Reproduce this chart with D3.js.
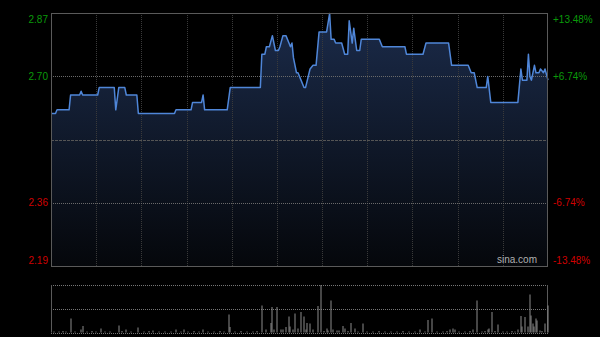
<!DOCTYPE html>
<html>
<head>
<meta charset="utf-8">
<script src="https://cdn.jsdelivr.net/npm/d3@7"></script>
<style>
  html, body { margin: 0; padding: 0; background: #000; }
  svg { display: block; }
  text { font-family: "Liberation Sans", Arial, sans-serif; }
</style>
</head>
<body>
<svg width="600" height="337"></svg>
<script>
// previous close and the percentage band of the chart
var prevClose = 2.53,
    band = 0.1348;

// intraday price, only the minutes where the line changes
var priceTimes = ["09:30","09:33","09:34","09:42","09:43","09:49","09:50","09:51","10:01","10:02",
  "10:12","10:13","10:15","10:19","10:20","10:27","10:28","10:52","10:53","11:03",
  "11:04","11:10","11:11","11:12","11:27","11:29","11:49","11:50","11:52","11:53",
  "11:55","11:57","11:59","13:01","13:02","13:04","13:06","13:08","13:09","13:10",
  "13:11","13:13","13:14","13:16","13:18","13:19","13:22","13:24","13:26","13:28",
  "13:33","13:35","13:36","13:38","13:39","13:43","13:45","13:47","13:48","13:50",
  "13:51","13:53","13:55","13:56","14:08","14:10","14:25","14:26","14:37","14:39",
  "14:54","14:56","15:07","15:09","15:11","15:13","15:19","15:20","15:22","15:40",
  "15:42","15:43","15:46","15:47","15:48","15:49","15:51","15:52","15:54","15:55",
  "15:57","15:58","16:00"];
var prices = [2.60,2.60,2.61,2.61,2.65,2.65,2.66,2.65,2.65,2.67,
  2.67,2.61,2.67,2.67,2.65,2.65,2.60,2.60,2.61,2.61,
  2.63,2.63,2.65,2.61,2.61,2.67,2.67,2.76,2.76,2.78,
  2.78,2.81,2.77,2.77,2.78,2.81,2.81,2.79,2.78,2.79,
  2.75,2.71,2.71,2.69,2.67,2.67,2.72,2.73,2.73,2.82,
  2.82,2.87,2.80,2.80,2.79,2.79,2.76,2.76,2.85,2.79,
  2.83,2.77,2.77,2.80,2.80,2.78,2.78,2.76,2.76,2.79,
  2.79,2.73,2.73,2.71,2.71,2.67,2.67,2.70,2.63,2.63,
  2.72,2.69,2.69,2.76,2.70,2.69,2.73,2.71,2.71,2.72,
  2.71,2.72,2.69];

// traded volume per minute (thousand shares)
var volTimes = ["09:32","09:35","09:38","09:40","09:43","09:46","09:50","09:51","09:54","09:57",
  "10:00","10:03","10:06","10:09","10:15","10:17","10:20","10:23","10:28","10:32",
  "10:35","10:38","10:42","10:46","10:50","10:53","10:56","10:58","11:01","11:05",
  "11:08","11:11","11:14","11:18","11:22","11:25","11:28","11:29","11:32","11:36",
  "11:40","11:44","11:47","11:50","11:53","11:56","11:57","11:58","12:00","13:03",
  "13:04","13:06","13:08","13:09","13:11","13:12","13:14","13:16","13:18","13:19",
  "13:20","13:22","13:24","13:27","13:29","13:31","13:33","13:34","13:36","13:37",
  "13:40","13:41","13:44","13:45","13:47","13:49","13:52","13:54","13:57","14:00",
  "14:04","14:08","14:12","14:16","14:20","14:24","14:28","14:32","14:35","14:38",
  "14:40","14:43","14:46","14:50","14:53","14:55","14:57","14:58","15:01","15:05",
  "15:08","15:10","15:13","15:16","15:18","15:20","15:21","15:23","15:25","15:27",
  "15:30","15:33","15:36","15:38","15:40","15:42","15:43","15:45","15:47","15:48",
  "15:49","15:50","15:51","15:52","15:53","15:55","15:56","15:58","16:00"];
var volumes = [20,20,30,20,280,20,60,130,20,30,
  20,80,20,20,140,30,60,20,100,20,
  30,40,20,20,20,60,20,60,20,30,
  20,60,20,20,30,20,360,110,20,30,
  20,20,30,540,60,190,510,60,510,60,
  60,110,320,120,60,380,80,410,320,60,
  190,180,60,530,950,30,80,40,640,60,
  40,40,130,80,30,190,80,20,180,20,
  20,30,20,20,20,30,20,20,60,20,
  250,280,20,20,30,60,80,60,20,20,
  30,60,640,20,30,60,80,410,30,160,
  20,20,30,20,60,330,120,310,120,760,
  340,180,120,280,240,40,30,180,540];

var priceTicks = ["2.87","2.70","2.36","2.19"],
    pctTicks = ["+13.48%","+6.74%","-6.74%","-13.48%"],
    tickPct = [band, band / 2, -band / 2, -band];

var svg = d3.select("svg"),
    margin = {top: 13, left: 51, right: 52},
    width = +svg.attr("width") - margin.left - margin.right,
    height = 253,
    volTop = 285,
    volHeight = 47.5;

// minutes of trading: 9:30-12:00 and 13:00-16:00
function toIndex(s) {
  var p = s.split(":"), t = +p[0] * 60 + +p[1];
  return t <= 720 ? t - 570 : t - 780 + 150;
}

var x = d3.scaleLinear().domain([0, 330]).range([margin.left, margin.left + width]),
    y = d3.scaleLinear().domain([prevClose * (1 - band), prevClose * (1 + band)])
          .range([margin.top + height, margin.top]),
    yv = d3.scaleLinear().domain([0, d3.max(volumes)]).range([volTop + volHeight, volTop]);

var pdata = priceTimes.map(function(t, i) { return {i: toIndex(t), p: prices[i]}; });
var vdata = volTimes.map(function(t, i) { return {i: toIndex(t), v: volumes[i]}; });

var grad = svg.append("defs").append("linearGradient")
    .attr("id", "fill")
    .attr("gradientUnits", "userSpaceOnUse")
    .attr("x1", 0).attr("x2", 0)
    .attr("y1", margin.top).attr("y2", margin.top + height);
grad.append("stop").attr("offset", "0%").attr("stop-color", "#1b2b4a");
grad.append("stop").attr("offset", "100%").attr("stop-color", "#05070b");

var area = d3.area()
    .x(function(d) { return x(d.i); })
    .y0(margin.top + height)
    .y1(function(d) { return y(d.p); });

var line = d3.line()
    .x(function(d) { return x(d.i); })
    .y(function(d) { return y(d.p); });

svg.append("path")
    .datum(pdata)
    .attr("fill", "url(#fill)")
    .attr("d", area);

// grid
var vgrid = d3.range(30, 330, 30);
svg.append("g").selectAll("line")
    .data(vgrid)
    .enter().append("line")
    .attr("x1", function(d) { return Math.round(x(d)) + 0.5; })
    .attr("x2", function(d) { return Math.round(x(d)) + 0.5; })
    .attr("y1", margin.top)
    .attr("y2", margin.top + height)
    .attr("stroke", "#3a3a3a")
    .attr("stroke-dasharray", "1,1");

svg.append("g").selectAll("line")
    .data([band / 2, -band / 2])
    .enter().append("line")
    .attr("x1", margin.left)
    .attr("x2", margin.left + width)
    .attr("y1", function(d) { return Math.round(y(prevClose * (1 + d))) + 0.5; })
    .attr("y2", function(d) { return Math.round(y(prevClose * (1 + d))) + 0.5; })
    .attr("stroke", "#6a6a6a")
    .attr("stroke-dasharray", "1,1");

svg.append("line")
    .attr("x1", margin.left)
    .attr("x2", margin.left + width)
    .attr("y1", Math.round(y(prevClose)) + 0.5)
    .attr("y2", Math.round(y(prevClose)) + 0.5)
    .attr("stroke", "#555")
    .attr("stroke-dasharray", "3,1");

svg.append("path")
    .datum(pdata)
    .attr("fill", "none")
    .attr("stroke", "#4f86d8")
    .attr("stroke-width", 1.5)
    .attr("stroke-linejoin", "round")
    .attr("d", line);

svg.append("rect")
    .attr("x", margin.left + 0.5)
    .attr("y", margin.top + 0.5)
    .attr("width", width - 1)
    .attr("height", height)
    .attr("fill", "none")
    .attr("stroke", "#5a5a5a");

svg.append("text")
    .attr("x", margin.left + width - 11)
    .attr("y", margin.top + height - 3)
    .attr("text-anchor", "end")
    .attr("font-size", 10)
    .attr("fill", "#b0b0b0")
    .text("sina.com");

// axes
var tickVals = tickPct.map(function(d) { return prevClose * (1 + d); });
function tickColor(d) { return d > prevClose ? "#0a9a0a" : "#d00000"; }
function clampY(d) {
  var yy = y(d);
  return Math.max(margin.top + 6, Math.min(margin.top + height - 6, yy)) - yy;
}

var yAxisL = d3.axisLeft(y).tickValues(tickVals).tickSize(0).tickPadding(3)
    .tickFormat(function(d, i) { return priceTicks[i]; });
var yAxisR = d3.axisRight(y).tickValues(tickVals).tickSize(0).tickPadding(5)
    .tickFormat(function(d, i) { return pctTicks[i]; });

[[yAxisL, margin.left], [yAxisR, margin.left + width]].forEach(function(a) {
  var g = svg.append("g")
      .attr("transform", "translate(" + a[1] + ",0)")
      .call(a[0]);
  g.select(".domain").remove();
  g.selectAll("text")
      .attr("font-family", "'Liberation Sans', Arial, sans-serif")
      .attr("font-size", 10)
      .attr("fill", tickColor)
      .attr("transform", function(d) { return "translate(0," + clampY(d) + ")"; });
});

// volume panel
var vol = svg.append("g");
vol.selectAll("line.hg")
    .data([volTop, volTop + volHeight / 2, volTop + volHeight])
    .enter().append("line")
    .attr("class", "hg")
    .attr("x1", margin.left)
    .attr("x2", margin.left + width)
    .attr("y1", function(d) { return Math.round(d) + 0.5; })
    .attr("y2", function(d) { return Math.round(d) + 0.5; })
    .attr("stroke", "#777")
    .attr("stroke-dasharray", "1,1");

vol.selectAll("line.vb")
    .data([margin.left + 0.5, margin.left + width - 0.5])
    .enter().append("line")
    .attr("class", "vb")
    .attr("x1", function(d) { return d; })
    .attr("x2", function(d) { return d; })
    .attr("y1", volTop)
    .attr("y2", volTop + volHeight)
    .attr("stroke", "#5a5a5a");

vol.selectAll("rect")
    .data(vdata)
    .enter().append("rect")
    .attr("x", function(d) { return Math.round(x(d.i)) - 0.5; })
    .attr("width", 1)
    .attr("y", function(d) { return yv(d.v); })
    .attr("height", function(d) { return yv(0) - yv(d.v); })
    .attr("fill", "#8c8c8c");
</script>
</body>
</html>
